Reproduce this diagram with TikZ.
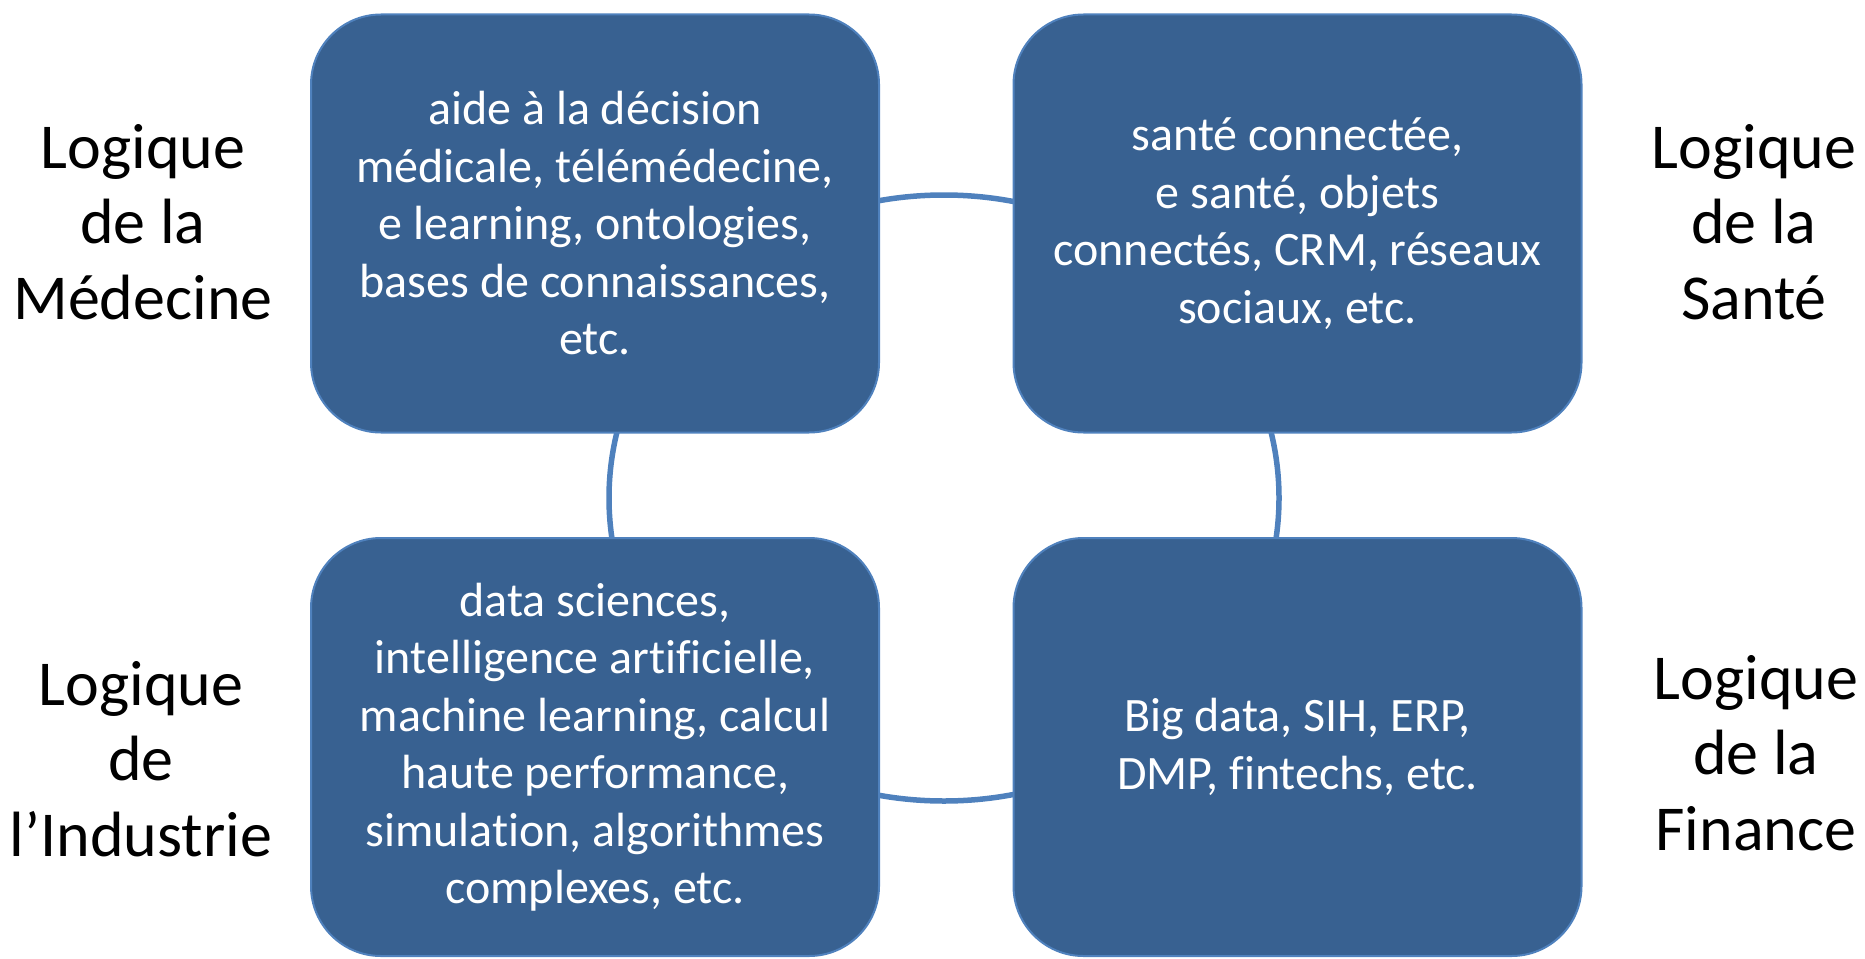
\documentclass[tikz,border=0pt]{standalone}
\usepackage{fontspec}
\setmainfont{Carlito}[Ligatures=NoCommon]
\usetikzlibrary{shapes.geometric}
\definecolor{boxblue}{RGB}{56,97,145}
\definecolor{ringblue}{RGB}{79,129,189}
\tikzset{
  x=1pt, y=1pt,
  boxnode/.style={rounded corners=70pt, fill=boxblue, draw=ringblue, line width=2pt,
    minimum width=568pt, minimum height=418pt, inner sep=0pt, align=center,
    text=white, font=\fontsize{48}{57.5}\selectfont},
  sidelabel/.style={align=center, text=black, inner sep=0pt, font=\fontsize{64}{75.5}\selectfont},
  ring/.style={ellipse, draw=ringblue, line width=5.5pt, minimum width=670pt, minimum height=606pt, inner sep=0pt}
}
\begin{document}
\begin{tikzpicture}
\useasboundingbox (0,0) rectangle (1865,-958);
\node[ring] (ring) at (944,-498) {};
\node[boxnode] (med) at (595,-223.5) {aide à la décision\\médicale, télémédecine,\\e learning, ontologies,\\bases de connaissances,\\etc.};
\node[boxnode] (sante) at (1297.5,-223.5) {santé connectée,\\e santé, objets\\connectés, CRM, réseaux\\sociaux, etc.};
\node[boxnode] (ind) at (595,-747) {data sciences,\\intelligence artificielle,\\machine learning, calcul\\haute performance,\\simulation, algorithmes\\complexes, etc.};
\node[boxnode] (fin) at (1297.5,-747) {Big data, SIH, ERP,\\DMP, fintechs, etc.};
\node[sidelabel] (lmed) at (143,-222) {Logique\\de la\\Médecine};
\node[sidelabel] (lsante) at (1754,-222) {Logique\\de la\\Santé};
\node[sidelabel] (lind) at (141,-759) {Logique\\de\\l’Industrie};
\node[sidelabel] (lfin) at (1756,-753) {Logique\\de la\\Finance};
\end{tikzpicture}
\end{document}
